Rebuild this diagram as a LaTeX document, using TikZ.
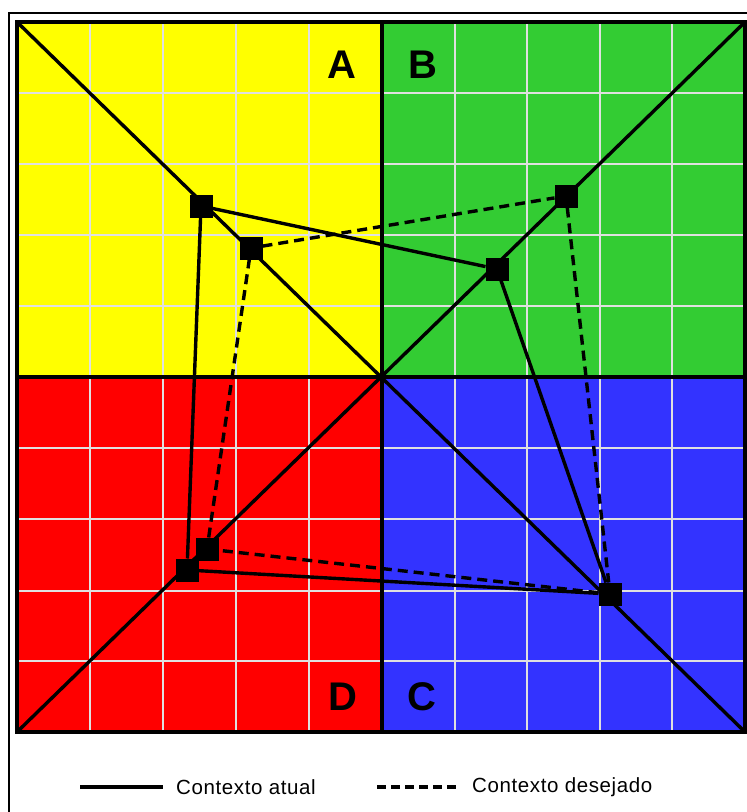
\documentclass[tikz,border=0pt]{standalone}
\usepackage{fontspec}
\setmainfont{Liberation Sans}
\definecolor{qyellow}{RGB}{255,255,0}
\definecolor{qgreen}{RGB}{51,204,51}
\definecolor{qred}{RGB}{255,0,0}
\definecolor{qblue}{RGB}{51,51,255}
\begin{document}
\begin{tikzpicture}[x=1pt,y=-1pt,
  mk/.style={fill=black,draw=none,minimum size=23pt,inner sep=0pt,outer sep=0pt},
  solidln/.style={line width=3.4pt},
  dashln/.style={line width=3.4pt,dash pattern=on 10pt off 6pt},
  gridln/.style={line width=1.8pt,white!88!black},
  quad/.style={font=\bfseries\fontsize{40}{40}\selectfont},
  legtxt/.style={font=\addfontfeatures{LetterSpace=3}\fontsize{20.5}{20.5}\selectfont,anchor=west,inner sep=0pt}]
\useasboundingbox (0,0) rectangle (747,812);
\fill[white] (0,0) rectangle (747,812);
% outer frame
\draw[line width=2pt] (9,812) -- (9,13) -- (747,13);
% quadrants
\coordinate (TL) at (17,22);
\coordinate (TR) at (745,22);
\coordinate (BL) at (17,732);
\coordinate (BR) at (745,732);
\coordinate (O) at (382,377);
\fill[qyellow] (TL) rectangle (O);
\fill[qgreen] (382,22) rectangle (745,377);
\fill[qred] (17,377) rectangle (382,732);
\fill[qblue] (O) rectangle (BR);
% grid
\foreach \x in {90,163,236,309,455,527,600,672}
  \draw[gridln] (\x,22) -- (\x,732);
\foreach \y in {93,164,235,306,448,519,591,661}
  \draw[gridln] (17,\y) -- (745,\y);
% diagonals
\draw[solidln] (TL) -- (BR);
\draw[solidln] (BL) -- (TR);
% dividers and border
\draw[line width=4.5pt] (382,22) -- (382,732);
\draw[line width=4.5pt] (17,377) -- (745,377);
\draw[line width=3.5pt] (TL) rectangle (BR);
% markers
\node[mk] (A1) at (201,206) {};
\node[mk] (A2) at (251,248) {};
\node[mk] (B1) at (497,269) {};
\node[mk] (B2) at (566,196) {};
\node[mk] (D1) at (187,570) {};
\node[mk] (D2) at (207,549) {};
\node[mk] (C) at (610,594) {};
% current context (solid)
\draw[solidln] (A1) -- (B1);
\draw[solidln] (B1) -- (C);
\draw[solidln] (C) -- (D1);
\draw[solidln] (D1) -- (A1);
% desired context (dashed)
\draw[dashln] (A2) -- (B2);
\draw[dashln] (B2) -- (C);
\draw[dashln] (C) -- (D2);
\draw[dashln] (D2) -- (A2);
% quadrant labels
\node[quad] (lA) at (342,65) {A};
\node[quad] (lB) at (423,65) {B};
\node[quad] (lD) at (343,697) {D};
\node[quad] (lC) at (422,697) {C};
% legend
\coordinate (s1) at (80,787);
\coordinate (s2) at (163,787);
\coordinate (d1) at (377,787);
\coordinate (d2) at (458,787);
\draw[solidln] (s1) -- (s2);
\draw[dashln,dash pattern=on 9pt off 5pt] (d1) -- (d2);
\node[legtxt] (t1) at (176,787) {Contexto atual};
\node[legtxt] (t2) at (472,787) {Contexto desejado};
\end{tikzpicture}
\end{document}
